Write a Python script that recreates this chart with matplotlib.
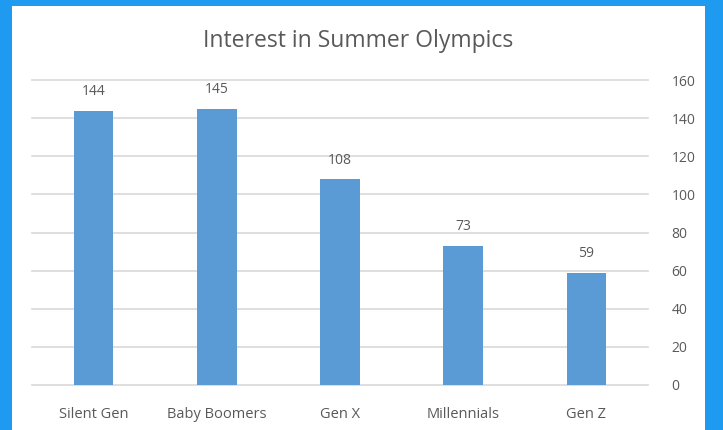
import matplotlib
matplotlib.use('Agg')
import matplotlib.pyplot as plt
from matplotlib.patches import Rectangle

categories = ['Silent Gen', 'Baby Boomers', 'Gen X', 'Millennials', 'Gen Z']
interest = [144, 145, 108, 73, 59]
yticks = [0, 20, 40, 60, 80, 100, 120, 140, 160]

plt.rcParams['font.family'] = ['Open Sans', 'DejaVu Sans']
text_color = '#595959'

W, H = 723, 430
fig = plt.figure(figsize=(W / 100, H / 100), dpi=100)
fig.patch.set_facecolor('#1E9AF0')

# white chart card inside the blue frame
fig.patches.append(Rectangle((12 / W, 0), (705 - 12) / W, (430 - 6) / H,
                             transform=fig.transFigure, facecolor='white',
                             edgecolor='none', zorder=-1))

ax = fig.add_axes([32 / W, (H - 385) / H, (648 - 32) / W, (385 - 80) / H])
ax.set_facecolor('none')

x = list(range(len(categories)))
for t in yticks:
    ax.axhline(t, color='#D9D9D9', linewidth=1.2, zorder=0, clip_on=False)
bars = ax.bar(x, interest, width=0.32, color='#5B9BD5', zorder=3)
for b, v in zip(bars, interest):
    ax.text(b.get_x() + b.get_width() / 2, v + 6, str(v), ha='center',
            va='bottom', fontsize=10, color=text_color)

ax.set_xlim(-0.5, len(categories) - 0.5)
ax.set_ylim(0, 160)
ax.set_yticks(yticks)
ax.yaxis.tick_right()
ax.tick_params(axis='y', length=0, pad=17, labelsize=10, labelcolor=text_color)
ax.set_xticks(x)
ax.set_xticklabels(categories)
ax.tick_params(axis='x', length=0, pad=16, labelsize=10.5, labelcolor=text_color)
for s in ax.spines.values():
    s.set_visible(False)

fig.text(358 / W, 1 - 41 / H, 'Interest in Summer Olympics', ha='center',
         va='center', fontsize=16.5, color=text_color)

fig.savefig('out.png', dpi=100)
